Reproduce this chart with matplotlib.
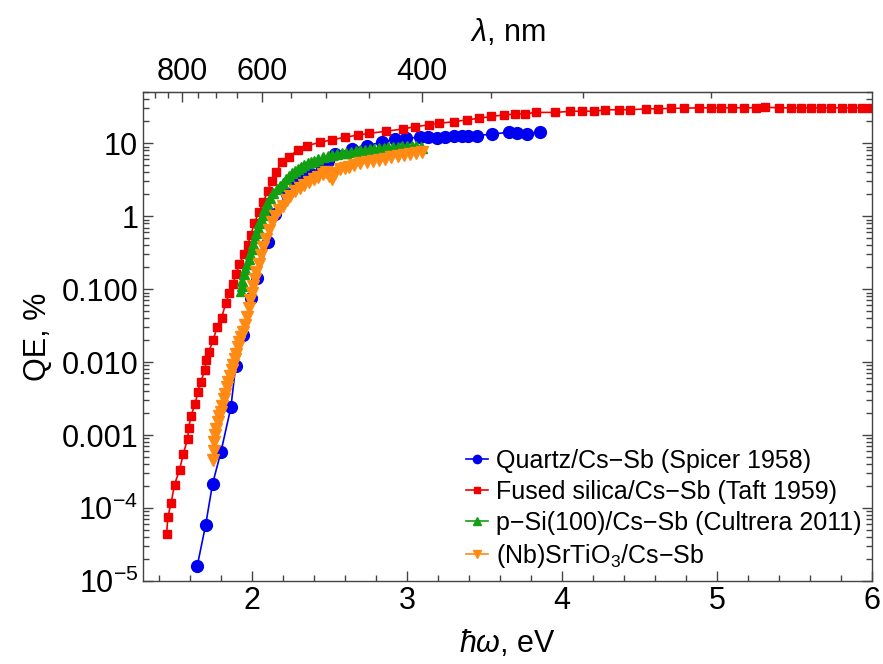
import numpy as np
import matplotlib
matplotlib.use("Agg")
import matplotlib.pyplot as plt
from matplotlib.ticker import FixedLocator, NullFormatter

plt.rcParams['font.family'] = ['Liberation Sans', 'DejaVu Sans']
plt.rcParams['mathtext.fontset'] = 'custom'
plt.rcParams['mathtext.rm'] = 'Liberation Sans'
plt.rcParams['mathtext.it'] = 'Liberation Sans:italic'

# Quartz/Cs-Sb (Spicer 1958)
quartz_e = [1.649, 1.703, 1.748, 1.802, 1.866, 1.897, 1.946, 1.995, 2.036, 2.107,
            2.150, 2.226, 2.279, 2.333, 2.383, 2.452, 2.490, 2.538, 2.645, 2.742,
            2.839, 2.925, 2.995, 3.086, 3.139, 3.194, 3.247, 3.301, 3.355, 3.397,
            3.452, 3.548, 3.655, 3.710, 3.774, 3.855]
quartz_qe = [1.6e-5, 5.8e-5, 2.15e-4, 5.9e-4, 2.4e-3, 8.9e-3, 0.0236, 0.075, 0.143, 0.45,
             1.08, 2.03, 2.78, 3.25, 3.81, 4.6, 5.8, 7.1, 8.4, 9.3,
             10.3, 11.5, 11.7, 12.1, 12.1, 11.7, 12.3, 12.5, 12.5, 12.5,
             12.7, 13.4, 14.1, 13.7, 13.4, 14.4]

# Fused silica/Cs-Sb (Taft 1959)
silica_e = [1.452, 1.460, 1.481, 1.503, 1.535, 1.559, 1.587, 1.595, 1.608, 1.636,
            1.652, 1.673, 1.697, 1.707, 1.723, 1.752, 1.778, 1.806, 1.834, 1.855,
            1.877, 1.899, 1.920, 1.952, 1.974, 1.995, 2.017, 2.047, 2.075, 2.103,
            2.129, 2.157, 2.194, 2.241, 2.297, 2.355, 2.441, 2.520, 2.602, 2.688,
            2.759, 2.866, 2.972, 3.055, 3.142, 3.206, 3.301, 3.387, 3.468, 3.544,
            3.623, 3.694, 3.759, 3.834, 3.957, 4.049, 4.129, 4.204, 4.279, 4.365,
            4.441, 4.544, 4.617, 4.699, 4.785, 4.881, 4.957, 5.026, 5.097, 5.172,
            5.247, 5.305, 5.397, 5.473, 5.537, 5.602, 5.666, 5.735, 5.806, 5.871,
            5.935, 5.989]
silica_qe = [4.45e-5, 7.6e-5, 1.18e-4, 2.1e-4, 3.33e-4, 5.47e-4, 8.9e-4, 1.25e-3, 1.84e-3, 2.66e-3,
             3.85e-3, 5.4e-3, 7.7e-3, 0.0107, 0.0138, 0.0201, 0.0306, 0.0406, 0.0652, 0.0873,
             0.116, 0.159, 0.222, 0.301, 0.399, 0.558, 0.807, 1.14, 1.56, 2.21,
             3.08, 4.02, 5.5, 6.44, 8.18, 9.27, 10.3, 11.2, 12.1, 13.0,
             13.7, 14.6, 15.7, 16.9, 17.9, 18.8, 19.7, 21.0, 22.0, 23.4,
             24.4, 25.1, 25.4, 26.5, 26.5, 27.4, 27.6, 27.4, 28.8, 28.8,
             28.8, 29.7, 29.7, 30.1, 30.3, 30.6, 30.6, 30.6, 30.6, 30.6,
             30.6, 31.3, 30.6, 30.6, 30.6, 30.6, 30.6, 30.6, 30.6, 30.6,
             30.6, 30.6]

# p-Si(100)/Cs-Sb (Cultrera 2011)
psi_e = [1.930, 1.935, 1.940, 1.950, 1.960, 1.970, 1.980, 1.990, 2.000, 2.010,
         2.020, 2.030, 2.040, 2.050, 2.060, 2.070, 2.080, 2.090, 2.100, 2.120,
         2.140, 2.160, 2.180, 2.200, 2.220, 2.240, 2.260, 2.280, 2.300, 2.320,
         2.340, 2.360, 2.380, 2.400, 2.430, 2.460, 2.490, 2.520, 2.550, 2.580,
         2.610, 2.640, 2.670, 2.700, 2.730, 2.760, 2.790, 2.820, 2.850, 2.880,
         2.910, 2.940, 2.970, 3.000, 3.030, 3.060, 3.090, 3.100]
psi_qe = [0.095, 0.11, 0.13, 0.16, 0.19, 0.22, 0.26, 0.30, 0.36, 0.42,
          0.50, 0.58, 0.68, 0.80, 0.92, 1.05, 1.20, 1.35, 1.50, 1.80,
          2.05, 2.35, 2.60, 2.90, 3.20, 3.60, 3.90, 4.20, 4.50, 4.80,
          5.10, 5.40, 5.60, 5.80, 6.10, 6.40, 6.60, 6.90, 7.10, 7.30,
          7.40, 7.60, 7.80, 8.00, 8.10, 8.30, 8.40, 8.60, 8.70, 8.80,
          8.90, 9.00, 9.10, 9.20, 9.20, 9.10, 9.00, 8.60]

# (Nb)SrTiO3/Cs-Sb
sto_e = [1.752, 1.755, 1.760, 1.765, 1.770, 1.780, 1.790, 1.800, 1.810, 1.820,
         1.830, 1.840, 1.850, 1.860, 1.870, 1.880, 1.890, 1.900, 1.910, 1.920,
         1.930, 1.945, 1.957, 1.970, 1.980, 1.990, 2.000, 2.010, 2.020, 2.030,
         2.045, 2.060, 2.075, 2.090, 2.110, 2.130, 2.150, 2.175, 2.200, 2.225,
         2.250, 2.280, 2.310, 2.340, 2.370, 2.400, 2.430, 2.460, 2.480, 2.500,
         2.520, 2.540, 2.570, 2.600, 2.630, 2.660, 2.700, 2.740, 2.780, 2.820,
         2.860, 2.900, 2.940, 2.980, 3.020, 3.060, 3.100]
sto_qe = [4.5e-4, 6e-4, 8e-4, 1.0e-3, 1.2e-3, 1.5e-3, 1.8e-3, 2.1e-3, 2.5e-3, 3.1e-3,
          3.7e-3, 4.5e-3, 5.4e-3, 6.5e-3, 7.8e-3, 9.2e-3, 0.011, 0.013, 0.016, 0.019,
          0.022, 0.026, 0.032, 0.042, 0.055, 0.071, 0.088, 0.11, 0.14, 0.17,
          0.22, 0.29, 0.38, 0.49, 0.65, 0.83, 1.0, 1.2, 1.4, 1.65,
          1.92, 2.2, 2.45, 2.7, 2.95, 3.2, 3.5, 3.85, 4.0, 3.6,
          3.25, 3.9, 4.4, 4.6, 4.8, 5.0, 5.3, 5.5, 5.7, 5.9,
          6.1, 6.4, 6.7, 7.0, 7.2, 7.4, 7.5]

labels = ['Quartz/Cs\u2212Sb (Spicer 1958)',
          'Fused silica/Cs\u2212Sb (Taft 1959)',
          'p\u2212Si(100)/Cs\u2212Sb (Cultrera 2011)',
          '(Nb)SrTiO$_3$/Cs\u2212Sb']

fig = plt.figure(figsize=(8.83, 6.64), dpi=100)
ax = fig.add_axes([0.162, 0.125, 0.826, 0.736])

ax.plot(quartz_e, quartz_qe, '-o', color='#0000f0', ms=8.5, lw=1.2, label=labels[0])
ax.plot(silica_e, silica_qe, '-s', color='#f00000', ms=6.3, lw=1.2, label=labels[1])
ax.plot(psi_e, psi_qe, '-^', color='#12a012', ms=7.5, lw=1.2, label=labels[2])
ax.plot(sto_e, sto_qe, '-v', color='#ff8a14', ms=8, lw=1.2, label=labels[3])

ax.set_yscale('log')
ax.set_xlim(1.3, 6.0)
ax.set_ylim(1e-5, 50)
ax.set_xticks([2, 3, 4, 5, 6])
ax.set_xticks(np.arange(1.4, 6.0, 0.2), minor=True)
ax.set_yticks([1e-5, 1e-4, 1e-3, 1e-2, 1e-1, 1, 10])
ax.set_yticklabels(['$10^{-5}$', '$10^{-4}$', '0.001', '0.010', '0.100', '1', '10'])
ax.yaxis.set_minor_formatter(NullFormatter())

frame = '#444444'
for s in ax.spines.values():
    s.set_color(frame)
    s.set_linewidth(1.0)
ax.tick_params(which='both', direction='in', top=False, right=True, labelsize=22,
               color=frame, width=1.0)
ax.tick_params(which='major', length=7)
ax.tick_params(which='minor', length=4)

ax.set_xlabel('$ħω$, eV', fontsize=22, labelpad=9)
ax.set_ylabel('QE, %', fontsize=22, labelpad=6)

# top axis in wavelength
def to_nm(e):
    return 1239.84 / np.asarray(e, dtype=float)

def to_ev(l):
    return 1239.84 / np.asarray(l, dtype=float)

top = ax.secondary_xaxis('top', functions=(to_nm, to_ev))
top.xaxis.set_major_locator(FixedLocator([800, 600, 400]))
top.xaxis.set_minor_locator(FixedLocator([900, 850, 750, 700, 650, 550, 500, 450, 350, 300, 250]))
top.xaxis.set_minor_formatter(NullFormatter())
top.tick_params(which='both', direction='in', labelsize=22, color=frame, width=1.0)
top.tick_params(which='major', length=7)
top.tick_params(which='minor', length=4)
top.spines['top'].set_color(frame)
top.set_xlabel('$λ$, nm', fontsize=22, labelpad=12)

ax.legend(loc='lower right', bbox_to_anchor=(1.0, 0.0), frameon=False, fontsize=18,
          handlelength=0.9, handletextpad=0.3, labelspacing=0.28, markerscale=0.7,
          borderaxespad=0.05)

fig.savefig('out.png', dpi=100)
